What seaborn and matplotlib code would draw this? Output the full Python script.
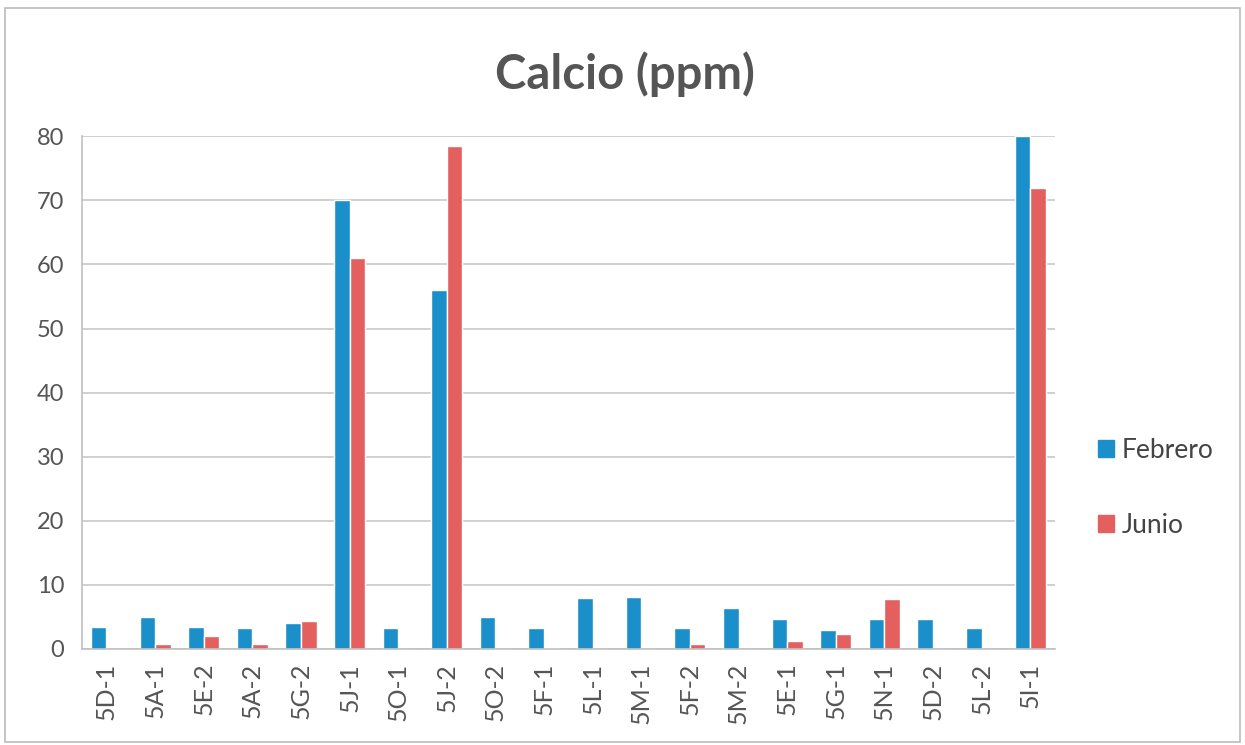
import matplotlib
matplotlib.use("Agg")
import matplotlib.pyplot as plt
import seaborn as sns
import pandas as pd
from matplotlib.patches import Rectangle

categories = ["5D-1", "5A-1", "5E-2", "5A-2", "5G-2", "5J-1", "5O-1", "5J-2", "5O-2", "5F-1",
              "5L-1", "5M-1", "5F-2", "5M-2", "5E-1", "5G-1", "5N-1", "5D-2", "5L-2", "5I-1"]
febrero = [3.4, 5.0, 3.4, 3.3, 4.0, 70.0, 3.2, 56.0, 5.0, 3.2,
           7.9, 8.1, 3.3, 6.4, 4.7, 3.0, 4.6, 4.7, 3.2, 80.0]
junio = [0.0, 0.7, 2.0, 0.7, 4.4, 61.0, 0.0, 78.5, 0.0, 0.2,
         0.0, 0.0, 0.7, 0.0, 1.3, 2.3, 7.8, 0.0, 0.0, 72.0]
series = ["Febrero", "Junio"]
colors = ["#1b8fca", "#e4605f"]
yticks = [0, 10, 20, 30, 40, 50, 60, 70, 80]

df = pd.DataFrame({
    "Muestra": categories * 2,
    "Serie": [series[0]] * len(categories) + [series[1]] * len(categories),
    "Valor": febrero + junio,
})

sns.set_theme(style="white")
plt.rcParams["font.family"] = ["Lato", "DejaVu Sans"]

fig = plt.figure(figsize=(12.45, 7.45), dpi=100)
ax = fig.add_axes([0.066, 0.129, 0.781, 0.688])

sns.barplot(data=df, x="Muestra", y="Valor", hue="Serie", palette=colors,
            order=categories, hue_order=series, width=0.64, gap=0.0,
            saturation=1, ax=ax, legend=False)

ax.set_ylim(0, 80)
ax.set_yticks(yticks)
ax.set_xlim(-0.5, len(categories) - 0.5)
ax.grid(axis="y", color="#c8c8c8", linewidth=1.2)
ax.set_axisbelow(True)
for s in ["top", "right"]:
    ax.spines[s].set_visible(False)
for s in ["left", "bottom"]:
    ax.spines[s].set_color("#c0c0c0")
    ax.spines[s].set_linewidth(1.2)
ax.tick_params(axis="y", length=5, color="#c0c0c0", labelsize=17, labelcolor="#555555", pad=8)
ax.tick_params(axis="x", length=0, labelsize=18, labelcolor="#555555", labelrotation=90, pad=10)
ax.set_xlabel("")
ax.set_ylabel("")

fig.text(0.502, 0.9, "Calcio (ppm)", ha="center", va="center", fontsize=34,
         fontweight="bold", color="#555555")

handles = [Rectangle((0, 0), 1, 1, color=c) for c in colors]
fig.legend(handles, series, loc="center left", bbox_to_anchor=(0.863, 0.345),
           frameon=False, fontsize=19, labelspacing=1.9, handlelength=0.6,
           handleheight=0.6, handletextpad=0.3, labelcolor="#444444")

fig.add_artist(Rectangle((0.004, 0.004), 0.992, 0.985, transform=fig.transFigure,
                         fill=False, edgecolor="#bbbbbb", linewidth=1.2))

fig.savefig("out.png", dpi=100)
